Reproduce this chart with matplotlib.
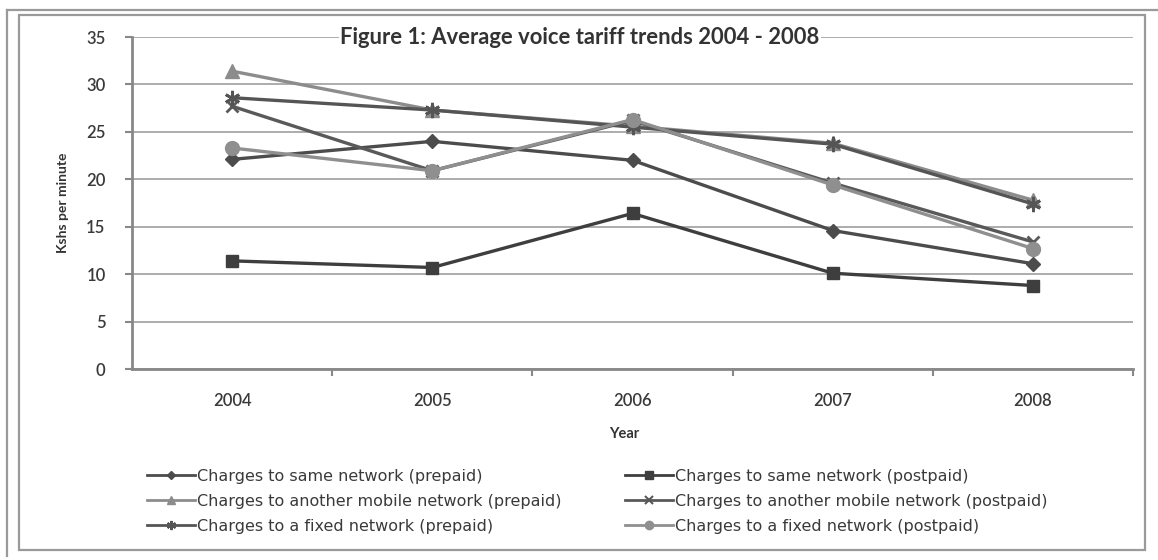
import matplotlib
matplotlib.use("Agg")
import matplotlib.pyplot as plt
from matplotlib.lines import Line2D

# Average voice tariffs (Kshs per minute) by year
years = ["2004", "2005", "2006", "2007", "2008"]

same_prepaid = [22.1, 24.0, 22.0, 14.6, 11.1]
same_postpaid = [11.4, 10.7, 16.4, 10.1, 8.8]
other_mobile_prepaid = [31.4, 27.3, 25.6, 23.8, 17.8]
other_mobile_postpaid = [27.7, 20.9, 26.2, 19.6, 13.4]
fixed_prepaid = [28.6, 27.3, 25.5, 23.7, 17.4]
fixed_postpaid = [23.3, 20.9, 26.3, 19.4, 12.7]

series_labels = [
    "Charges to same network (prepaid)",
    "Charges to same network (postpaid)",
    "Charges to another mobile network (prepaid)",
    "Charges to another mobile network (postpaid)",
    "Charges to a fixed network (prepaid)",
    "Charges to a fixed network (postpaid)",
]
series_values = [same_prepaid, same_postpaid, other_mobile_prepaid,
                 other_mobile_postpaid, fixed_prepaid, fixed_postpaid]

y_ticks = [0, 5, 10, 15, 20, 25, 30, 35]

W, H = 1158, 560
DPI = 100
fig = plt.figure(figsize=(W / DPI, H / DPI), dpi=DPI)
fig.patch.set_facecolor("white")


def px_box(x0, y0, x1, y1):
    """Convert a pixel box (top-left origin) to figure fractions."""
    return [x0 / W, 1 - y1 / H, (x1 - x0) / W, (y1 - y0) / H]


ax = fig.add_axes(px_box(132, 37, 1133, 369))
ax.set_facecolor("white")

styles = [
    dict(color="#4c4c4c", marker="D", markersize=7),
    dict(color="#3e3e3e", marker="s", markersize=9),
    dict(color="#8c8c8c", marker="^", markersize=10),
    dict(color="#595959", marker="x", markersize=9, markeredgewidth=2),
    dict(color="#555555", marker=(6, 2, 0), markersize=11, markeredgewidth=2),
    dict(color="#8f8f8f", marker="o", markersize=10),
]

x = list(range(len(years)))
handles = []
for vals, lab, st in zip(series_values, series_labels, styles):
    ax.plot(x, vals, linewidth=2.4, label=lab, zorder=3,
            markeredgecolor=st["color"], markerfacecolor=st["color"], **st)
    # smaller legend key for the same series
    small = dict(st)
    small["markersize"] = st["markersize"] * 0.6
    if "markeredgewidth" in small:
        small["markeredgewidth"] = 1.5
    handles.append(Line2D([], [], linewidth=2.0,
                          markeredgecolor=st["color"],
                          markerfacecolor=st["color"], **small))

grid_col = "#a6a6a6"
ax.set_ylim(0, 35)
ax.set_xlim(-0.5, len(years) - 0.5)
ax.set_yticks(y_ticks)
ax.yaxis.grid(True, color=grid_col, linewidth=1.3, zorder=0)
ax.set_axisbelow(True)

ax.set_xticks(x)
ax.set_xticklabels(years)
ax.set_xticks([i + 0.5 for i in range(len(years))], minor=True)
ax.tick_params(axis="x", which="major", length=0, pad=17)
ax.tick_params(axis="x", which="minor", length=5, width=1.5, color="#888888",
               direction="out")
ax.tick_params(axis="y", length=5, width=1.5, color="#888888", pad=14)

for lab in ax.get_xticklabels() + ax.get_yticklabels():
    lab.set_fontfamily("Lato")
    lab.set_fontsize(12)
    lab.set_fontweight("semibold")
    lab.set_color("#3a3a3a")

for side in ("top", "right"):
    ax.spines[side].set_visible(False)
for side in ("left", "bottom"):
    ax.spines[side].set_color("#888888")
    ax.spines[side].set_linewidth(2)

# title sits on the top gridline with a white backing
fig.text(580 / W, 1 - 38 / H, "Figure 1: Average voice tariff trends 2004 - 2008",
         ha="center", va="center", fontfamily="Lato", fontweight="bold",
         fontsize=15.8, color="#333333",
         bbox=dict(facecolor="white", edgecolor="none", pad=1.0))

fig.text(63 / W, 1 - 203 / H, "Kshs per minute", rotation=90, ha="center",
         va="center", fontfamily="Lato", fontweight="bold", fontsize=10,
         color="#333333")
fig.text(624 / W, 1 - 434 / H, "Year", ha="center", va="center",
         fontfamily="Lato", fontweight="bold", fontsize=10.5, color="#333333")

leg_kw = dict(frameon=False, handlelength=3.0, handletextpad=0.15,
              labelspacing=0.62, borderaxespad=0, borderpad=0,
              prop=dict(family="DejaVu Sans", size=11.5), labelcolor="#3a3a3a")
leg1 = fig.legend([handles[0], handles[2], handles[4]],
                  [series_labels[0], series_labels[2], series_labels[4]],
                  loc="upper left", bbox_to_anchor=(147 / W, 1 - 469 / H), **leg_kw)
leg2 = fig.legend([handles[1], handles[3], handles[5]],
                  [series_labels[1], series_labels[3], series_labels[5]],
                  loc="upper left", bbox_to_anchor=(625 / W, 1 - 469 / H), **leg_kw)

# chart border: an outer edge line and an inner frame
frame_col = "#9a9a9a"
fig.add_artist(Line2D([7 / W, 7 / W], [1 - 556 / H, 1 - 10 / H],
                      color=frame_col, linewidth=1.6, transform=fig.transFigure))
fig.add_artist(Line2D([7 / W, 1158 / W], [1 - 10 / H, 1 - 10 / H],
                      color=frame_col, linewidth=1.6, transform=fig.transFigure))
fig.add_artist(plt.Rectangle((19 / W, 1 - 550 / H), (1145 - 19) / W, (550 - 15) / H,
                             fill=False, edgecolor=frame_col, linewidth=1.6,
                             transform=fig.transFigure))

fig.savefig("out.png", dpi=DPI, facecolor="white")
